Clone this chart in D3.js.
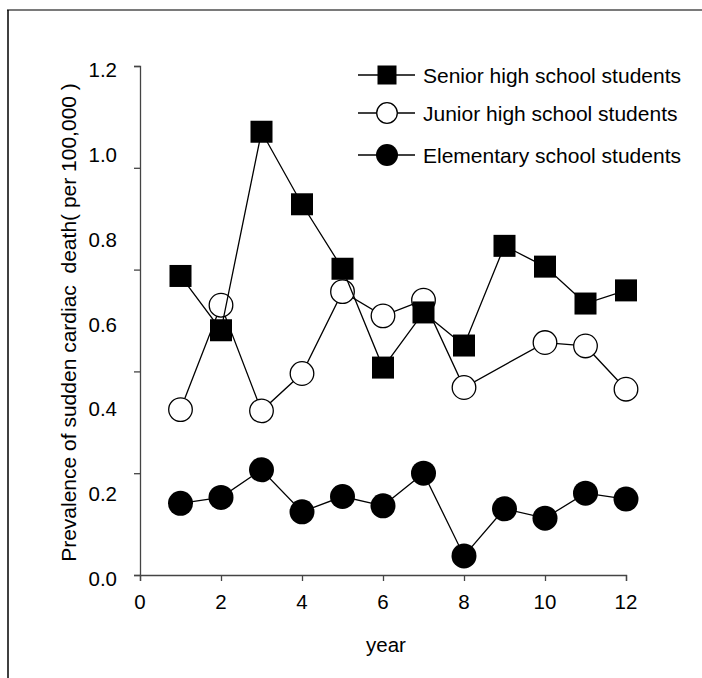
<!DOCTYPE html>
<html>
<head>
<meta charset="utf-8">
<script src="https://cdn.jsdelivr.net/npm/d3@7"></script>
<style>
  html, body { margin: 0; padding: 0; background: #fff; }
  svg { display: block; }
  text { font-family: "Liberation Sans", Arial, sans-serif; fill: #000; white-space: pre; }
</style>
</head>
<body>
<script>
// ---- data ----
const years = [1, 2, 3, 4, 5, 6, 7, 8, 9, 10, 11, 12];
const seniorValues = [0.705, 0.577, 1.045, 0.874, 0.722, 0.489, 0.619, 0.541, 0.776, 0.727, 0.640, 0.671];
const juniorYears = [1, 2, 3, 4, 5, 6, 7, 8, 10, 11, 12];
const juniorValues = [0.390, 0.636, 0.387, 0.475, 0.668, 0.611, 0.648, 0.442, 0.548, 0.540, 0.438];
const elementaryValues = [0.169, 0.183, 0.248, 0.149, 0.185, 0.163, 0.240, 0.045, 0.156, 0.134, 0.193, 0.179];
const seriesNames = ["Senior high school students", "Junior high school students", "Elementary school students"];
const xTickValues = [0, 2, 4, 6, 8, 10, 12];
const yTickMarks = [0, 0.24, 0.48, 0.72, 0.96, 1.2];
const yTickLabels = [0, 0.2, 0.4, 0.6, 0.8, 1.0, 1.2];
const xTitle = "year";
const yTitle = "Prevalence of sudden cardiac  death( per 100,000 )";

// ---- layout ----
const W = 702, H = 678;
const svg = d3.select("body").append("svg").attr("width", W).attr("height", H);

// frame
svg.append("line").attr("x1", 7).attr("x2", W).attr("y1", 10).attr("y2", 10)
  .attr("stroke", "#7a7a7a").attr("stroke-width", 2);
svg.append("line").attr("x1", 8).attr("x2", 8).attr("y1", 10).attr("y2", H)
  .attr("stroke", "#000").attr("stroke-width", 1.5);

const x = d3.scaleLinear().domain([0, 12]).range([140, 626]);
const y = d3.scaleLinear().domain([0, 1.2]).range([575, 66]);

const axisColor = "#444";
const fs = 20.5;

// x axis
const gx = svg.append("g").attr("transform", `translate(0,${y(0)})`)
  .call(d3.axisBottom(x).tickValues(xTickValues).tickFormat("").tickSizeOuter(0).tickSize(6));
gx.select(".domain").attr("stroke", axisColor).attr("stroke-width", 1.3);
gx.selectAll(".tick line").attr("stroke", axisColor).attr("stroke-width", 1.3);
svg.append("g").selectAll("text").data(xTickValues).join("text")
  .attr("x", d => x(d)).attr("y", 608.5).attr("text-anchor", "middle")
  .style("font-size", fs + "px").text(d => d);

// y axis
const gy = svg.append("g").attr("transform", `translate(${x(0)},0)`)
  .call(d3.axisLeft(y).tickValues(yTickMarks).tickFormat("").tickSizeOuter(0).tickSize(6));
gy.select(".domain").attr("stroke", axisColor).attr("stroke-width", 1.3);
gy.selectAll(".tick line").attr("stroke", axisColor).attr("stroke-width", 1.3);
svg.append("g").selectAll("text").data(yTickLabels).join("text")
  .attr("x", 117).attr("y", d => y(d) + 11).attr("text-anchor", "end")
  .style("font-size", fs + "px").text(d => d3.format(".1f")(d));

// titles
svg.append("text").attr("x", 386).attr("y", 652).attr("text-anchor", "middle")
  .style("font-size", fs + "px").text(xTitle);
svg.append("text").attr("transform", `translate(76,${(y(0) + y(1.2)) / 2 + 2}) rotate(-90)`)
  .attr("text-anchor", "middle").attr("xml:space", "preserve")
  .style("font-size", "21px").text(yTitle);

// series
const line = d3.line().x(d => x(d[0])).y(d => y(d[1]));
const elemData = years.map((yr, i) => [yr, elementaryValues[i]]);
const juniorData = juniorYears.map((yr, i) => [yr, juniorValues[i]]);
const seniorData = years.map((yr, i) => [yr, seniorValues[i]]);

function drawLine(data) {
  svg.append("path").datum(data).attr("d", line)
    .attr("fill", "none").attr("stroke", "#000").attr("stroke-width", 1.3);
}

// elementary
drawLine(elemData);
svg.append("g").selectAll("circle").data(elemData).join("circle")
  .attr("cx", d => x(d[0])).attr("cy", d => y(d[1])).attr("r", 12.5)
  .attr("fill", "#000");

// junior
drawLine(juniorData);
svg.append("g").selectAll("circle").data(juniorData).join("circle")
  .attr("cx", d => x(d[0])).attr("cy", d => y(d[1])).attr("r", 11.8)
  .attr("fill", "#fff").attr("stroke", "#000").attr("stroke-width", 1.3);

// senior
drawLine(seniorData);
const sq = 22;
svg.append("g").selectAll("rect").data(seniorData).join("rect")
  .attr("x", d => x(d[0]) - sq / 2).attr("y", d => y(d[1]) - sq / 2)
  .attr("width", sq).attr("height", sq).attr("fill", "#000");

// legend
const legendRows = [75, 113, 155];
const lg = svg.append("g");
seriesNames.forEach((name, i) => {
  const cy = legendRows[i];
  lg.append("line").attr("x1", 358).attr("x2", 415).attr("y1", cy).attr("y2", cy)
    .attr("stroke", "#000").attr("stroke-width", 1.3);
  if (i === 0) {
    lg.append("rect").attr("x", 387 - 9.5).attr("y", cy - 9.5).attr("width", 19).attr("height", 19).attr("fill", "#000");
  } else if (i === 1) {
    lg.append("circle").attr("cx", 387).attr("cy", cy).attr("r", 10.3)
      .attr("fill", "#fff").attr("stroke", "#000").attr("stroke-width", 1.3);
  } else {
    lg.append("circle").attr("cx", 387).attr("cy", cy).attr("r", 11).attr("fill", "#000");
  }
  lg.append("text").attr("x", 423).attr("y", cy + 7.5).style("font-size", "21px").text(name);
});
</script>
</body>
</html>
